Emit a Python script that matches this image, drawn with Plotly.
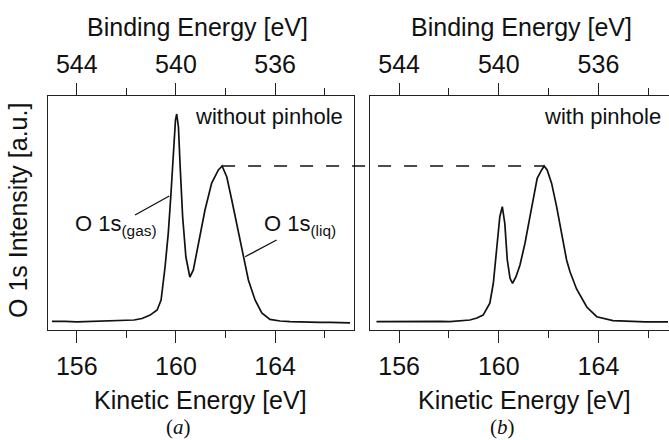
import plotly.graph_objects as go

# ---------------- data ----------------
photon_energy = 700.0  # eV, BE = hv - KE

ke_a = [155.00, 155.53, 156.01, 156.54, 156.94, 157.42, 157.91, 158.31, 158.63, 158.96,
        159.24, 159.40, 159.56, 159.69, 159.79, 159.90, 159.98, 160.03, 160.10, 160.17,
        160.27, 160.40, 160.56, 160.70, 160.90, 161.17, 161.44, 161.71, 161.86, 162.05,
        162.25, 162.48, 162.72, 162.92, 163.19, 163.46, 163.79, 164.20, 164.60, 165.00,
        165.40, 165.81, 166.21, 166.62, 167.02]
int_a = [0.052, 0.053, 0.049, 0.052, 0.051, 0.055, 0.058, 0.061, 0.070, 0.091,
         0.122, 0.183, 0.384, 0.591, 0.811, 1.098, 1.280, 1.317, 1.238, 0.994,
         0.689, 0.445, 0.323, 0.366, 0.530, 0.732, 0.896, 0.976, 1.000, 0.933,
         0.793, 0.628, 0.445, 0.305, 0.183, 0.104, 0.065, 0.055, 0.051, 0.049,
         0.045, 0.046, 0.046, 0.044, 0.043]

ke_b = [155.09, 155.63, 156.23, 156.83, 157.23, 157.63, 158.03, 158.43, 158.84, 159.12,
        159.37, 159.64, 159.78, 159.91, 160.04, 160.14, 160.24, 160.34, 160.45, 160.55,
        160.69, 160.85, 161.05, 161.25, 161.41, 161.54, 161.72, 161.82, 161.94, 162.12,
        162.32, 162.52, 162.72, 162.86, 163.12, 163.53, 163.93, 164.58, 165.27, 165.87,
        166.47, 166.79]
int_b = [0.051, 0.052, 0.050, 0.053, 0.055, 0.053, 0.051, 0.056, 0.061, 0.073,
         0.091, 0.163, 0.285, 0.488, 0.691, 0.752, 0.651, 0.427, 0.315, 0.285,
         0.325, 0.396, 0.529, 0.691, 0.813, 0.925, 0.976, 1.000, 0.976, 0.894,
         0.752, 0.590, 0.427, 0.354, 0.250, 0.140, 0.081, 0.057, 0.052, 0.049,
         0.049, 0.050]

ke_major = [156, 160, 164]
be_major = [544, 540, 536]
panel_labels = ["without pinhole", "with pinhole"]
captions = ["(<i>a</i>)", "(<i>b</i>)"]

# ---------------- layout constants ----------------
W, H = 669, 440
ML, MR, MT, MB = 48, 0, 96, 110
range_a = [154.84, 167.18]
range_b = [154.83, 166.83]
yrange = [0, 1.427]
dom_a = [0.0, 0.4928]
dom_b = [0.5185, 1.0]

FONT = "Liberation Sans, Arial, Helvetica, sans-serif"
INK = "#111111"
FRAME = "#222222"

fig = go.Figure()

fig.add_trace(go.Scatter(x=ke_a, y=int_a, mode="lines", xaxis="x", yaxis="y",
                         line=dict(color=INK, width=1.7), showlegend=False, hoverinfo="skip"))
fig.add_trace(go.Scatter(x=ke_b, y=int_b, mode="lines", xaxis="x2", yaxis="y2",
                         line=dict(color=INK, width=1.7), showlegend=False, hoverinfo="skip"))
# invisible traces on the binding-energy (top) axes so they are drawn
fig.add_trace(go.Scatter(x=[photon_energy - k for k in ke_a], y=int_a, mode="lines",
                         xaxis="x3", yaxis="y", opacity=0, showlegend=False, hoverinfo="skip"))
fig.add_trace(go.Scatter(x=[photon_energy - k for k in ke_b], y=int_b, mode="lines",
                         xaxis="x4", yaxis="y2", opacity=0, showlegend=False, hoverinfo="skip"))

tickfont = dict(family=FONT, size=25, color=INK)


def bottom_axis(rng, dom, anchor):
    return dict(domain=dom, range=rng, anchor=anchor, side="bottom",
                tickmode="array", tickvals=ke_major, ticktext=[str(v) for v in ke_major],
                ticks="outside", ticklen=12, tickwidth=1.2, tickcolor=FRAME,
                minor=dict(tickmode="linear", tick0=156, dtick=2, ticks="outside",
                           ticklen=7, tickwidth=1.2, tickcolor=FRAME),
                showline=True, linecolor=FRAME, linewidth=1.3, mirror=False,
                showgrid=False, zeroline=False, tickfont=tickfont,
                ticklabelstandoff=2, fixedrange=True)


def top_axis(rng, over):
    return dict(overlaying=over, side="top", range=[photon_energy - rng[0], photon_energy - rng[1]],
                anchor="y" if over == "x" else "y2",
                tickmode="array", tickvals=be_major, ticktext=[str(v) for v in be_major],
                ticks="outside", ticklen=12, tickwidth=1.2, tickcolor=FRAME,
                minor=dict(tickmode="linear", tick0=544, dtick=2, ticks="outside",
                           ticklen=7, tickwidth=1.2, tickcolor=FRAME),
                showline=True, linecolor=FRAME, linewidth=1.3, mirror=False,
                showgrid=False, zeroline=False, tickfont=tickfont,
                ticklabelstandoff=0, fixedrange=True)


fig.update_layout(
    width=W, height=H,
    margin=dict(l=ML, r=MR, t=MT, b=MB, pad=0),
    paper_bgcolor="white", plot_bgcolor="white",
    font=dict(family=FONT, color=INK),
    showlegend=False,
    xaxis=bottom_axis(range_a, dom_a, "y"),
    xaxis2=bottom_axis(range_b, dom_b, "y2"),
    xaxis3=top_axis(range_a, "x"),
    xaxis4=top_axis(range_b, "x2"),
    yaxis=dict(domain=[0, 1], range=yrange, anchor="x", showticklabels=False, ticks="",
               showline=True, linecolor=FRAME, linewidth=1.3, mirror=True,
               showgrid=False, zeroline=False, fixedrange=True),
    yaxis2=dict(domain=[0, 1], range=yrange, anchor="x2", showticklabels=False, ticks="",
                showline=True, linecolor=FRAME, linewidth=1.3, mirror=False,
                showgrid=False, zeroline=False, fixedrange=True),
)


def to_px(k, rng, dom):
    return dom[0] + (k - rng[0]) / (rng[1] - rng[0]) * (dom[1] - dom[0])


# dashed line connecting the two liquid-peak maxima
liq_a = [(i, k) for i, k in zip(int_a, ke_a) if k > 161.3]
peak_a_int, peak_a_ke = max(liq_a)
peak_b_int, peak_b_ke = max(zip(int_b, ke_b))
fig.add_shape(type="line", xref="paper", yref="paper",
              x0=to_px(peak_a_ke, range_a, dom_a), x1=to_px(peak_b_ke, range_b, dom_b),
              y0=peak_a_int / yrange[1], y1=peak_b_int / yrange[1],
              line=dict(color=INK, width=1.4, dash="13px,13px"))

# peak labels with leader lines (panel a)
gas_label = dict(x=155.85, y=0.64)
liq_label = dict(x=163.47, y=0.64)
gas_leader = [158.35, 0.701, 159.73, 0.817]
liq_leader = [162.79, 0.447, 164.06, 0.549]
for ld in (gas_leader, liq_leader):
    fig.add_shape(type="line", xref="x", yref="y", x0=ld[0], y0=ld[1], x1=ld[2], y1=ld[3],
                  line=dict(color=INK, width=1.3))

fig.add_annotation(x=gas_label["x"], y=gas_label["y"], xref="x", yref="y",
                   text="O 1s<sub>(gas)</sub>", showarrow=False, xanchor="left", yanchor="middle",
                   font=dict(family=FONT, size=22, color=INK))
fig.add_annotation(x=liq_label["x"], y=liq_label["y"], xref="x", yref="y",
                   text="O 1s<sub>(liq)</sub>", showarrow=False, xanchor="left", yanchor="middle",
                   font=dict(family=FONT, size=22, color=INK))

# panel labels
fig.add_annotation(x=166.82, y=1.305, xref="x", yref="y", text=panel_labels[0], showarrow=False,
                   xanchor="right", yanchor="middle", font=dict(family=FONT, size=22, color=INK))
fig.add_annotation(x=166.59, y=1.305, xref="x2", yref="y2", text=panel_labels[1], showarrow=False,
                   xanchor="right", yanchor="middle", font=dict(family=FONT, size=22, color=INK))


# axis titles (as annotations for precise placement)
def px_x(x):
    return (x - ML) / (W - ML - MR)


def px_y(y):
    return (H - MB - y) / (H - MT - MB)


title_font = dict(family=FONT, size=25, color=INK)
for xc in (197, 521):
    fig.add_annotation(x=px_x(xc), y=px_y(27), xref="paper", yref="paper",
                       text="Binding Energy [eV]", showarrow=False,
                       xanchor="center", yanchor="middle", font=title_font)
for xc in (200, 524):
    fig.add_annotation(x=px_x(xc), y=px_y(400), xref="paper", yref="paper",
                       text="Kinetic Energy [eV]", showarrow=False,
                       xanchor="center", yanchor="middle", font=title_font)
fig.add_annotation(x=px_x(18), y=px_y(211), xref="paper", yref="paper",
                   text="O 1s Intensity [a.u.]", showarrow=False, textangle=-90,
                   xanchor="center", yanchor="middle", font=title_font)
for xc, cap in zip((178, 502), captions):
    fig.add_annotation(x=px_x(xc), y=px_y(427), xref="paper", yref="paper",
                       text=cap, showarrow=False, xanchor="center", yanchor="middle",
                       font=dict(family="Liberation Serif, Times New Roman, serif", size=21, color=INK))

fig.write_html("out.html", config={"displayModeBar": False},
               post_script="document.body.style.margin='0';")
